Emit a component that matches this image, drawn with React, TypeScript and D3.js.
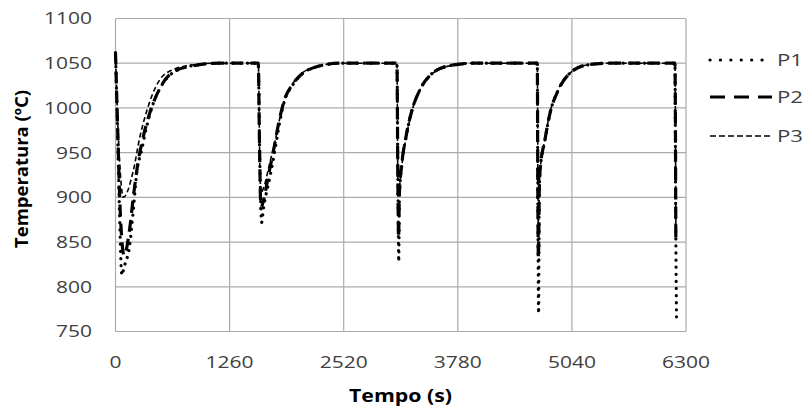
import React from "react";
import * as d3 from "d3";

const xTicks = [0, 1260, 2520, 3780, 5040, 6300];
const yTicks = [750, 800, 850, 900, 950, 1000, 1050, 1100];

const p1Time = [0, 20, 45, 70, 95, 160, 197, 234, 289, 344, 417, 528, 676, 897, 1150, 1577,
  1592, 1614, 1632, 1706, 1761, 1817, 1872, 1946, 2037, 2221, 2480, 3108,
  3118, 3128, 3135, 3160, 3210, 3270, 3360, 3490, 3680, 3950, 4658,
  4664, 4672, 4680, 4689, 4743, 4798, 4890, 5019, 5203, 5450, 6178,
  6185, 6195];
const p1Temp = [1062, 985, 880, 813, 822, 849, 886, 927, 953, 979, 1005, 1028, 1042, 1048, 1050, 1050,
  950, 872, 886, 923, 953, 986, 1010, 1024, 1036, 1046, 1050, 1050,
  930, 828, 900, 935, 968, 996, 1020, 1038, 1047, 1050, 1050,
  900, 770, 905, 930, 964, 994, 1020, 1039, 1048, 1050, 1050,
  900, 766];

const p2Time = [0, 20, 50, 95, 150, 200, 250, 300, 380, 480, 620, 850, 1150, 1577,
  1590, 1606, 1625, 1690, 1750, 1810, 1872, 1946, 2037, 2221, 2480, 3108,
  3118, 3126, 3135, 3160, 3210, 3270, 3360, 3490, 3680, 3950, 4658,
  4664, 4670, 4680, 4689, 4743, 4798, 4890, 5019, 5203, 5450, 6178,
  6188];
const p2Temp = [1062, 990, 890, 835, 860, 903, 940, 965, 995, 1020, 1039, 1047, 1050, 1050,
  960, 888, 893, 925, 955, 987, 1011, 1025, 1036, 1046, 1050, 1050,
  920, 855, 905, 936, 969, 996, 1020, 1038, 1047, 1050, 1050,
  900, 832, 908, 931, 965, 994, 1020, 1039, 1048, 1050, 1050,
  848];

const p3Time = [0, 25, 55, 86, 197, 270, 326, 400, 492, 640, 850, 1100, 1577,
  1595, 1606, 1640, 1700, 1760, 1820, 1880, 1950, 2037, 2221, 2480, 3108,
  3120, 3140, 3170, 3215, 3275, 3365, 3495, 3685, 3950, 4658,
  4668, 4685, 4743, 4798, 4890, 5019, 5203, 5450, 6178,
  6188];
const p3Temp = [1062, 985, 925, 900, 930, 968, 990, 1013, 1032, 1043, 1048, 1050, 1050,
  930, 905, 912, 937, 962, 991, 1013, 1026, 1037, 1046, 1050, 1050,
  900, 915, 942, 970, 997, 1021, 1038, 1047, 1050, 1050,
  870, 925, 966, 995, 1021, 1039, 1048, 1050, 1050,
  870];

const seriesNames = ["P1", "P2", "P3"];

const W = 807;
const H = 412;
const left = 115.5;
const right = 686;
const top = 18.5;
const bottom = 331.5;
const FONT = "'Open Sans', 'Liberation Sans', sans-serif";
const GRID = "#ababab";

const styles = [
  { width: 3.2, dash: "0.1 7", cap: "round" as const },
  { width: 3.2, dash: "12 7", cap: "butt" as const },
  { width: 1.6, dash: "5 3", cap: "butt" as const },
];

export default function App() {
  const x = d3.scaleLinear().domain([0, 6300]).range([left, right]);
  const y = d3.scaleLinear().domain([750, 1100]).range([bottom, top]);
  const line = d3
    .line<[number, number]>()
    .x((d) => x(d[0]))
    .y((d) => y(d[1]))
    .curve(d3.curveMonotoneX);

  const data: [number, number][][] = [
    p1Time.map((t, i) => [t, p1Temp[i]] as [number, number]),
    p2Time.map((t, i) => [t, p2Temp[i]] as [number, number]),
    p3Time.map((t, i) => [t, p3Temp[i]] as [number, number]),
  ];

  const legendY = [60, 97, 136];

  return (
    <svg
      width={W}
      height={H}
      style={{ position: "absolute", left: 0, top: 0, background: "#fff" }}
    >
      <rect x={0} y={0} width={W} height={H} fill="#fff" />
      {yTicks.map((v) => (
        <line key={"gy" + v} x1={left} x2={right} y1={y(v)} y2={y(v)} stroke={GRID} strokeWidth={1.2} />
      ))}
      {xTicks.map((v) => (
        <line key={"gx" + v} x1={x(v)} x2={x(v)} y1={top} y2={bottom} stroke={GRID} strokeWidth={1.2} />
      ))}
      {yTicks.map((v) => (
        <text
          key={"ty" + v}
          x={92}
          y={y(v)}
          dy="0.36em"
          textAnchor="end"
          fontFamily={FONT}
          fontSize={16.5}
          fill="#404040"
          textLength={String(v).length * 12}
          lengthAdjust="spacingAndGlyphs"
        >
          {v}
        </text>
      ))}
      {xTicks.map((v) => (
        <text
          key={"tx" + v}
          x={x(v)}
          y={362}
          dy="0.36em"
          textAnchor="middle"
          fontFamily={FONT}
          fontSize={16.5}
          fill="#404040"
          textLength={String(v).length * 12}
          lengthAdjust="spacingAndGlyphs"
        >
          {v}
        </text>
      ))}
      <text
        x={400.5}
        y={396}
        dy="0.36em"
        textAnchor="middle"
        fontFamily={FONT}
        fontSize={17}
        fontWeight="bold"
        fill="#000"
        textLength={103}
        lengthAdjust="spacingAndGlyphs"
      >
        Tempo (s)
      </text>
      <text
        transform={`translate(22,169) rotate(-90)`}
        dy="0.36em"
        textAnchor="middle"
        fontFamily={FONT}
        fontSize={17}
        fontWeight="bold"
        fill="#000"
        textLength={158}
        lengthAdjust="spacingAndGlyphs"
      >
        Temperatura (ºC)
      </text>
      {data.map((d, i) => (
        <path
          key={"s" + i}
          d={line(d) || ""}
          fill="none"
          stroke="#000"
          strokeWidth={styles[i].width}
          strokeDasharray={styles[i].dash}
          strokeLinecap={styles[i].cap}
          strokeLinejoin="round"
        />
      ))}
      {seriesNames.map((n, i) => (
        <g key={"lg" + n}>
          <line
            x1={710}
            x2={772}
            y1={legendY[i]}
            y2={legendY[i]}
            stroke="#000"
            strokeWidth={styles[i].width}
            strokeDasharray={i === 0 ? "0.1 10.3" : i === 1 ? "15 9" : "6 3"}
            strokeLinecap={styles[i].cap}
          />
          <text
            x={777}
            y={legendY[i]}
            dy="0.36em"
            fontFamily={FONT}
            fontSize={16}
            fill="#404040"
            textLength={26}
            lengthAdjust="spacingAndGlyphs"
          >
            {n}
          </text>
        </g>
      ))}
    </svg>
  );
}
